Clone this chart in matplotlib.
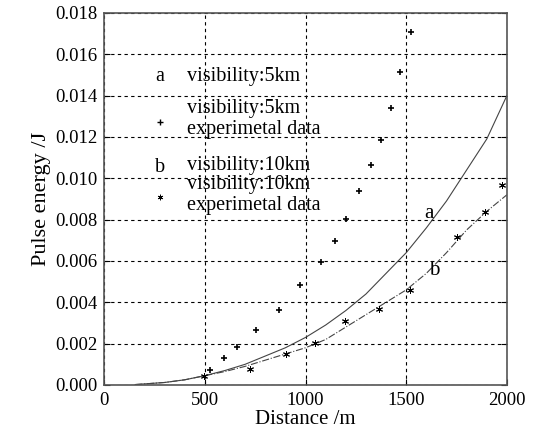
import numpy as np
import matplotlib.pyplot as plt

plt.rcParams['font.family'] = 'Liberation Serif'

# curve a: visibility 5 km (model)
dist_a = [154, 300, 400, 500, 600, 700, 800, 900, 1000, 1100, 1200, 1300, 1400, 1500,
          1600, 1700, 1800, 1900, 2000]
energy_a = [0.00002, 0.00012, 0.00025, 0.00045, 0.0007, 0.0010, 0.0014, 0.0018, 0.0023,
            0.0029, 0.0036, 0.0044, 0.0054, 0.0064, 0.0076, 0.0089, 0.0104, 0.0119, 0.0140]

# curve b: visibility 10 km (model)
dist_b = [154, 300, 400, 500, 600, 700, 800, 900, 1000, 1100, 1200, 1300, 1400, 1500,
          1600, 1700, 1800, 1900, 2000]
energy_b = [0.00002, 0.00012, 0.00025, 0.00045, 0.00065, 0.0009, 0.0012, 0.0015, 0.0018,
            0.0022, 0.0028, 0.0034, 0.0040, 0.0046, 0.0054, 0.0064, 0.0075, 0.0084, 0.0092]

# experimental data, visibility 5 km
exp5_d = [527, 595, 660, 753, 867, 972, 1075, 1144, 1199, 1267, 1327, 1373, 1426, 1468, 1522]
exp5_e = [0.00071, 0.00129, 0.00184, 0.00265, 0.00361, 0.00482, 0.00595, 0.00697, 0.00802,
          0.00937, 0.01063, 0.01185, 0.01342, 0.01514, 0.01708]

# experimental data, visibility 10 km
exp10_d = [498, 725, 902, 1045, 1197, 1367, 1519, 1750, 1891, 1978]
exp10_e = [0.00044, 0.00076, 0.00150, 0.00202, 0.00308, 0.00366, 0.00460, 0.00715, 0.00839, 0.00968]

fig = plt.figure(figsize=(5.37, 4.43), dpi=100)
ax = fig.add_axes([0.194, 0.131, 0.750, 0.840])

ax.plot(dist_a, energy_a, color='#444444', lw=0.8)
ax.plot(dist_b, energy_b, color='#444444', lw=0.8, linestyle='-.')
ax.plot(exp5_d, exp5_e, '+', color='black', ms=5, mew=1.2)
ax.plot(exp10_d, exp10_e, marker=(6, 2, 0), ls='none', color='black', ms=5, mew=0.7)

ax.text(1587, 0.0081, 'a', fontsize=15)
ax.text(1612, 0.0053, 'b', fontsize=15)

# hand-placed legend
fs = 14.5
ax.text(278, 0.0149, 'a', fontsize=fs, va='center', ha='center')
ax.text(412, 0.0149, 'visibility:5km', fontsize=fs, va='center')
ax.plot([278], [0.0127], '+', color='black', ms=4, mew=1)
ax.text(412, 0.01335, 'visibility:5km', fontsize=fs, va='center')
ax.text(412, 0.01235, 'experimetal data', fontsize=fs, va='center')
ax.text(278, 0.0105, 'b', fontsize=fs, va='center', ha='center')
ax.text(412, 0.0106, 'visibility:10km', fontsize=fs, va='center')
ax.plot([278], [0.0091], marker=(6, 2, 0), color='black', ms=4, mew=0.6)
ax.text(412, 0.0097, 'visibility:10km', fontsize=fs, va='center')
ax.text(412, 0.0087, 'experimetal data', fontsize=fs, va='center')

ax.set_xlim(0, 2000)
ax.set_ylim(0, 0.018)
ax.set_xticks([0, 500, 1000, 1500, 2000])
ax.set_yticks(np.arange(0, 0.0181, 0.002))
ax.yaxis.set_major_formatter(plt.FormatStrFormatter('%.3f'))
ax.grid(True, color='black', linestyle=(0, (3, 3)), lw=0.8)
ax.tick_params(direction='in', right=True, labelsize=13.5, length=4, pad=5)
for s in ax.spines.values():
    s.set_color('#555555')
    s.set_linewidth(1.2)

ax.set_xlabel('Distance /m', fontsize=15, labelpad=1)
ax.set_ylabel('Pulse energy /J', fontsize=16, labelpad=3)

plt.savefig('out.png', dpi=100)
